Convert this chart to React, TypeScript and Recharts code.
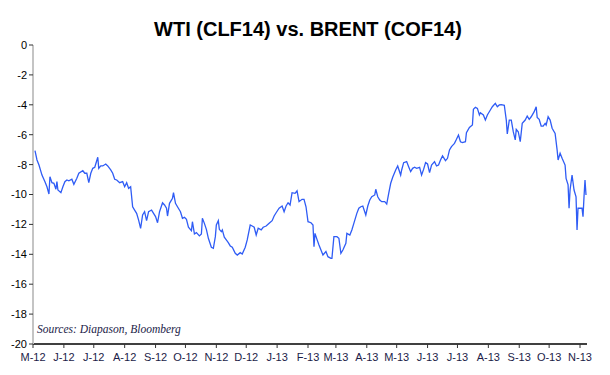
import React from 'react';
import { LineChart, Line, XAxis, YAxis } from 'recharts';

// month labels and the calendar day (from 1 May 2012) at which each month starts
const monthLabels = ['M-12', 'J-12', 'J-12', 'A-12', 'S-12', 'O-12', 'N-12', 'D-12', 'J-13', 'F-13', 'M-13', 'A-13', 'M-13', 'J-13', 'J-13', 'A-13', 'S-13', 'O-13', 'N-13'];
const monthStartDays = [0, 31, 61, 92, 123, 153, 184, 214, 245, 276, 304, 335, 365, 396, 426, 457, 488, 518, 549];

const yTicks = [0, -2, -4, -6, -8, -10, -12, -14, -16, -18, -20];

// WTI - BRENT spread (USD), sampled off the chart
const sampleDays = [
  2, 4, 6, 9, 12, 14, 16, 17, 19, 21, 23, 24, 25, 28, 30, 32, 34, 36, 39, 41,
  44, 46, 50, 52, 54, 56, 58, 60, 62, 65, 66, 68, 70, 73, 75, 78, 80, 82, 84, 87,
  90, 92, 94, 96, 98, 100, 102, 104, 106, 108, 110, 112, 114, 116, 119, 121, 123, 125, 127, 130,
  132, 134, 135, 137, 140, 141, 143, 145, 148, 150, 152, 154, 156, 159, 160, 162, 164, 167, 169, 170,
  172, 174, 176, 179, 181, 183, 184, 186, 187, 189, 190, 192, 194, 196, 198, 200, 203, 205, 208, 210,
  213, 215, 218, 220, 222, 224, 226, 229, 231, 234, 237, 240, 242, 244, 247, 250, 252, 254, 256, 258,
  260, 263, 265, 267, 270, 272, 274, 276, 279, 281, 282, 283, 285, 287, 289, 291, 294, 296, 299, 300,
  302, 305, 307, 309, 311, 314, 315, 318, 320, 322, 325, 327, 329, 331, 334, 336, 338, 340, 343, 344,
  346, 348, 350, 353, 355, 357, 359, 361, 364, 366, 369, 370, 372, 375, 377, 379, 381, 383, 385, 388,
  390, 392, 394, 396, 398, 400, 403, 405, 407, 409, 411, 414, 416, 418, 420, 423, 425, 427, 429, 431,
  434, 435, 438, 441, 442, 444, 446, 448, 449, 452, 454, 456, 459, 461, 464, 466, 468, 470, 473, 475,
  476, 478, 480, 482, 484, 485, 487, 489, 491, 494, 496, 498, 500, 503, 505, 506, 508, 510, 512, 514,
  515, 517, 519, 521, 524, 526, 527, 529, 531, 534, 535, 537, 538, 539, 541, 543, 545, 546, 547, 549,
  551, 552, 553, 554, 555,
];
const spreadValues = [
  -7.07, -7.69, -8.03, -8.7, -9.14, -9.48, -9.97, -8.81, -9.21, -9.25, -9.65, -9.14, -9.7, -9.88, -9.48, -9.14, -9.03, -9.08, -8.98, -9.32,
  -8.92, -8.58, -8.41, -8.58, -8.58, -9.21, -8.58, -8.25, -8.18, -7.51, -8.25, -8.09, -8.09, -7.96, -8.09, -8.36, -8.58, -8.98, -9.03, -9.21,
  -9.14, -9.48, -9.21, -9.59, -9.48, -10.82, -11.04, -11.26, -11.71, -12.26, -11.37, -11.15, -11.75, -11.15, -11.04, -11.26, -11.48, -11.89, -11.15, -10.55,
  -10.7, -10.92, -11.44, -10.59, -10.25, -9.88, -10.59, -10.82, -11.15, -11.59, -11.53, -11.66, -12.19, -12.42, -11.82, -12.64, -12.55, -12.77, -12.64, -11.59,
  -11.93, -12.33, -12.93, -13.53, -13.6, -12.82, -12.04, -11.75, -12.33, -12.49, -12.37, -12.86, -13.04, -13.22, -13.44, -13.53, -13.93, -14.05, -13.89, -13.98,
  -13.53, -13.04, -12.04, -12.11, -12.19, -12.71, -12.26, -12.37, -12.19, -12.11, -11.93, -11.75, -11.44, -11.22, -10.92, -10.77, -11.15, -10.77, -10.55, -10.7,
  -9.88, -9.92, -9.75, -10.48, -10.32, -10.32, -10.82, -11.82, -11.89, -12.04, -13.5, -12.6, -13.0, -13.38, -13.71, -14.05, -13.82, -14.16, -14.27, -14.27,
  -12.82, -12.82, -12.93, -13.93, -13.71, -13.27, -12.6, -12.71, -12.37, -11.93, -11.26, -10.92, -10.82, -10.77, -11.37, -10.77, -10.37, -10.15, -10.03, -9.65,
  -10.15, -10.37, -10.48, -10.48, -10.64, -9.92, -9.25, -8.85, -8.36, -8.09, -8.7, -8.36, -7.87, -7.8, -8.14, -8.47, -8.25, -8.18, -8.25, -8.18,
  -8.7, -8.32, -7.87, -7.96, -8.54, -8.03, -7.8, -8.09, -8.03, -7.69, -7.42, -7.74, -7.58, -7.02, -6.8, -6.58, -6.31, -6.02, -6.47, -6.53,
  -6.47, -5.87, -5.51, -5.35, -4.3, -4.17, -4.24, -4.68, -4.53, -4.68, -5.02, -4.68, -4.35, -4.13, -3.9, -4.13, -4.01, -3.99, -4.03, -5.02,
  -5.95, -5.02, -5.02, -5.8, -6.35, -5.64, -5.8, -6.47, -5.24, -5.02, -4.75, -4.97, -4.8, -4.46, -4.13, -4.84, -4.97, -5.42, -5.42, -5.24,
  -5.35, -4.8, -5.02, -5.57, -5.91, -7.02, -7.69, -7.24, -7.58, -8.03, -8.92, -9.36, -10.92, -9.7, -8.7, -9.7, -10.15, -12.37, -10.92, -10.92,
  -10.92, -11.48, -10.15, -9.03, -10.03,
];

const data = sampleDays.map((day, i) => ({ day, spread: spreadValues[i] }));

const labelFor = (day: number) => monthLabels[monthStartDays.indexOf(day)] ?? '';

export default function App() {
  return (
    <div style={{ position: 'absolute', left: 0, top: 0, width: 610, height: 375, background: '#fff' }}>
      <div
        style={{
          position: 'absolute',
          left: 0,
          top: 18,
          width: 616,
          textAlign: 'center',
          fontFamily: '"Liberation Sans", Arial, sans-serif',
          fontWeight: 'bold',
          fontSize: 20,
          color: '#000',
        }}
      >
        WTI (CLF14) vs. BRENT (COF14)
      </div>
      <LineChart width={610} height={375} data={data} margin={{ top: 45, right: 23, bottom: 0, left: 0 }}>
        <XAxis
          dataKey="day"
          type="number"
          domain={[0, 556]}
          ticks={monthStartDays}
          interval={0}
          tickFormatter={labelFor}
          height={31}
          axisLine={{ stroke: '#000', strokeWidth: 1.5 }}
          tickLine={{ stroke: '#333' }}
          tickSize={4}
          tickMargin={5}
          tick={{ fill: '#1c1c48', fontSize: 11, fontFamily: '"Liberation Sans", Arial, sans-serif' }}
        />
        <YAxis
          type="number"
          domain={[-20, 0]}
          ticks={yTicks}
          interval={0}
          width={33}
          axisLine={{ stroke: '#c4c4c4', strokeWidth: 2 }}
          tickLine={{ stroke: '#333' }}
          tickSize={4}
          tick={{ fill: '#000', fontSize: 11, fontFamily: '"Liberation Sans", Arial, sans-serif' }}
        />
        <Line
          type="linear"
          dataKey="spread"
          stroke="#2f5cf5"
          strokeWidth={1.3}
          dot={false}
          isAnimationActive={false}
        />
      </LineChart>
      <div
        style={{
          position: 'absolute',
          left: 37,
          top: 323,
          fontFamily: '"Liberation Serif", "Times New Roman", serif',
          fontStyle: 'italic',
          fontSize: 11.5,
          color: '#1c1c48',
        }}
      >
        Sources: Diapason, Bloomberg
      </div>
    </div>
  );
}
